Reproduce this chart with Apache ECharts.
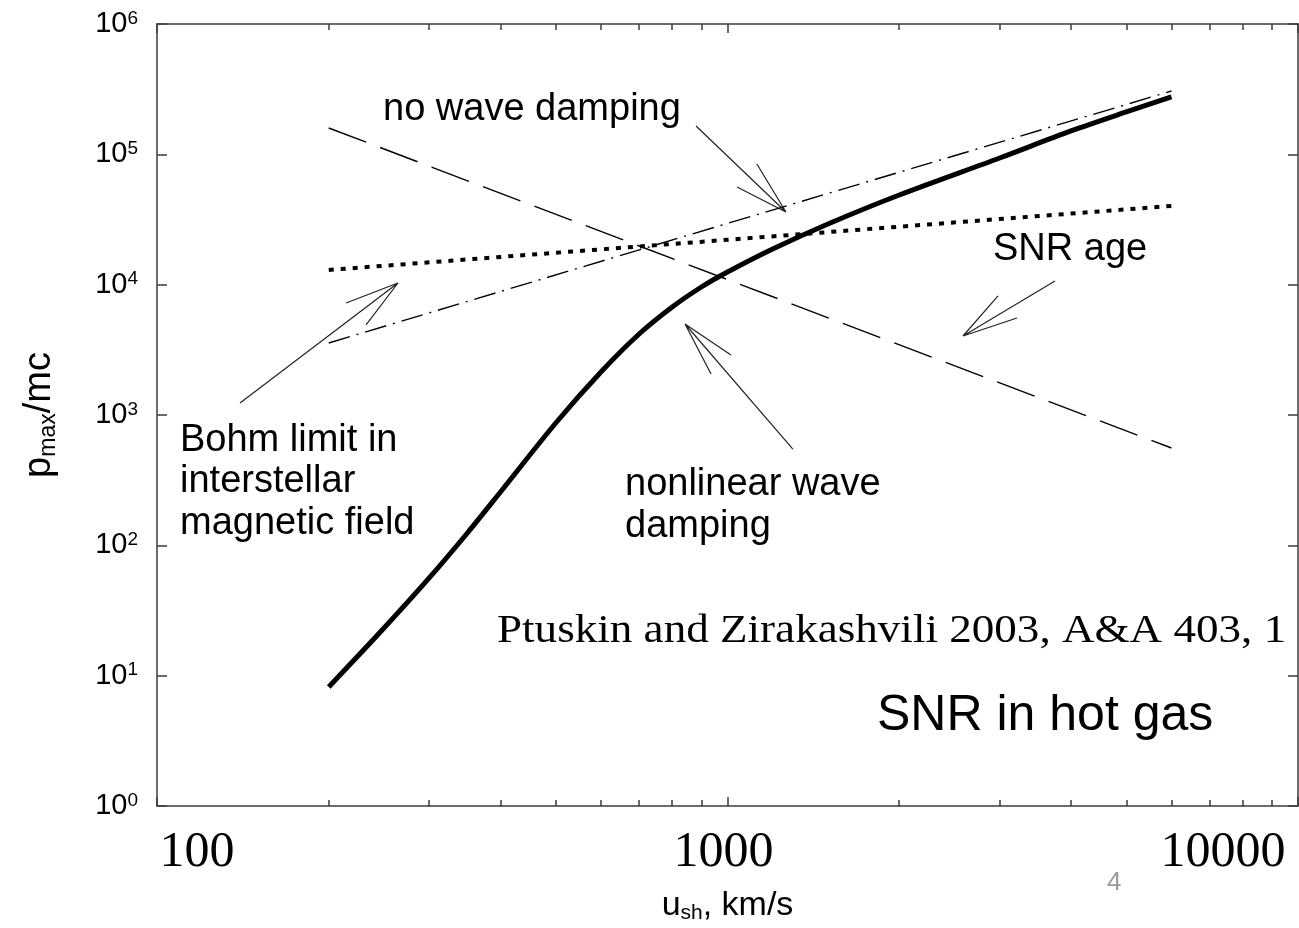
<!DOCTYPE html>
<html><head><meta charset="utf-8">
<script src="https://cdn.jsdelivr.net/npm/echarts@6/dist/echarts.min.js"></script>
<style>html,body{margin:0;padding:0;background:#fff}#c{width:1299px;height:928px}</style>
</head><body><div id="c"></div>
<script>
// ---- data ----
const velocity = [200, 250, 300, 350, 400, 500, 600, 700, 800, 900, 1000, 1200, 1500, 2000, 3000, 4000, 5000, 6000];
const nonlinearDamping = [8.19, 23.2, 56.2, 124.4, 256.6, 868, 2138, 4183, 6741, 9598, 12510, 18780, 29220, 48770, 93760, 151100, 211300, 275400];

const lineU = [200, 1000, 6000];
const noWaveDamping = [3570, 29500, 306000];   // dash-dot
const bohmLimit = [12970, 22100, 40200];       // dotted
const snrAge = [159300, 10940, 558];           // dashed

const xMajorTicks = [100, 1000, 10000];
const xMinorTicks = [200, 300, 400, 500, 600, 700, 800, 900, 2000, 3000, 4000, 5000, 6000, 7000, 8000, 9000];
const xTickLabels = {100: '100', 1000: '1000', 10000: '10000'};

// annotation arrows: tail, tip, barb, tip, barb  (u, p)
const arrowBohm = [[139.8, 1236], [264.5, 10300], [214.5, 7230], [264.5, 10300], [232.5, 4908]];
const arrowNonlinear = [[1302, 548], [842.5, 4990], [1014, 2886], [842.5, 4990], [935.7, 2063]];
const arrowNoDamping = [[880.7, 165000], [1266, 36120], [1039, 56170], [1266, 36120], [1126, 84330]];
const arrowSnrAge = [[3750, 10670], [2587, 4038], [2980, 8190], [2587, 4038], [3217, 5550]];

// ---- build ----
const AX = '#3c3c3c';
const SANS = '"Liberation Sans", Arial, sans-serif';
const SERIF = '"Liberation Serif", "Times New Roman", serif';
const zip = (xs, ys) => xs.map((x, i) => [x, ys[i]]);

function arrowSeries(pts) {
  return {type: 'line', data: pts, symbol: 'none', silent: true,
    lineStyle: {color: '#222', width: 1.2}, z: 3};
}

const baseLog = {type: 'log', logBase: 10, min: 100, max: 10000, splitLine: {show: false}};
const chart = echarts.init(document.getElementById('c'), null, {renderer: 'canvas'});
chart.setOption({
  backgroundColor: '#ffffff',
  animation: false,
  grid: {left: 157, right: 1, top: 24, bottom: 122, containLabel: false, outerBoundsMode: 'none'},
  xAxis: [
    Object.assign({}, baseLog, {
      position: 'bottom',
      axisLine: {show: true, onZero: false, lineStyle: {color: AX, width: 1.5}},
      axisTick: {show: true, inside: true, length: 9, lineStyle: {color: AX, width: 1.5}, customValues: xMajorTicks},
      axisLabel: {
        show: true, margin: 22, customValues: xMajorTicks,
        formatter: v => {
          const t = xTickLabels[Math.round(v)] || '';
          if (Math.round(v) === 100) return '{l|' + t + '}';
          if (Math.round(v) === 10000) return '{r|' + t + '}';
          return '{m|' + t + '}';
        },
        rich: {
          l: {fontFamily: SERIF, fontSize: 50, color: '#000', padding: [0, 0, 0, 80]},
          m: {fontFamily: SERIF, fontSize: 50, color: '#000', padding: [0, 0, 0, -8]},
          r: {fontFamily: SERIF, fontSize: 50, color: '#000', padding: [0, 150, 0, 0]}
        }
      },
      name: '{u|u}{s|sh}{u|, km/s}',
      nameLocation: 'middle', nameGap: 81,
      nameTextStyle: {
        rich: {
          u: {fontFamily: SANS, fontSize: 34, color: '#000', lineHeight: 37},
          s: {fontFamily: SANS, fontSize: 21, color: '#000', lineHeight: 21, verticalAlign: 'bottom'}
        }
      }
    }),
    Object.assign({}, baseLog, {
      position: 'bottom', axisLine: {show: false},
      axisTick: {show: true, inside: true, length: 6, lineStyle: {color: AX, width: 1.5}, customValues: xMinorTicks},
      axisLabel: {show: false}
    }),
    Object.assign({}, baseLog, {
      position: 'top',
      axisLine: {show: true, onZero: false, lineStyle: {color: AX, width: 1.5}},
      axisTick: {show: true, inside: true, length: 9, lineStyle: {color: AX, width: 1.5}, customValues: xMajorTicks},
      axisLabel: {show: false}
    }),
    Object.assign({}, baseLog, {
      position: 'top', axisLine: {show: false},
      axisTick: {show: true, inside: true, length: 6, lineStyle: {color: AX, width: 1.5}, customValues: xMinorTicks},
      axisLabel: {show: false}
    })
  ],
  yAxis: [
    {
      type: 'log', logBase: 10, min: 1, max: 1e6, position: 'left',
      splitLine: {show: false},
      axisLine: {show: true, onZero: false, lineStyle: {color: AX, width: 1.5}},
      axisTick: {show: true, inside: true, length: 10, lineStyle: {color: AX, width: 1.5}},
      axisLabel: {
        margin: 19,
        formatter: v => '{b|10}{e|' + Math.round(Math.log10(v)) + '}',
        rich: {
          b: {fontFamily: SANS, fontSize: 29, color: '#000', lineHeight: 30},
          e: {fontFamily: SANS, fontSize: 19, color: '#000', lineHeight: 19, verticalAlign: 'top'}
        }
      },
      name: '{p|p}{s|max}{p|/mc}',
      nameLocation: 'middle', nameRotate: 90, nameGap: 97,
      nameTextStyle: {
        rich: {
          p: {fontFamily: SANS, fontSize: 38, color: '#000', lineHeight: 40},
          s: {fontFamily: SANS, fontSize: 23, color: '#000', lineHeight: 23, verticalAlign: 'bottom'}
        }
      }
    },
    {
      type: 'log', logBase: 10, min: 1, max: 1e6, position: 'right',
      splitLine: {show: false},
      axisLine: {show: true, onZero: false, lineStyle: {color: AX, width: 1.5}},
      axisTick: {show: true, inside: true, length: 10, lineStyle: {color: AX, width: 1.5}},
      axisLabel: {show: false}
    }
  ],
  series: [
    {type: 'line', data: zip(velocity, nonlinearDamping), symbol: 'none', smooth: 0.3,
      lineStyle: {color: '#000', width: 5}, z: 5},
    {type: 'line', data: zip(lineU, noWaveDamping), symbol: 'none',
      lineStyle: {color: '#000', width: 1.4, type: [22, 7, 2, 7]}, z: 4},
    {type: 'line', data: zip(lineU, bohmLimit), symbol: 'none',
      lineStyle: {color: '#000', width: 4, type: [5, 7], cap: 'butt'}, z: 4},
    {type: 'line', data: zip(lineU, snrAge), symbol: 'none',
      lineStyle: {color: '#000', width: 1.4, type: [40, 15]}, z: 4},
    arrowSeries(arrowBohm),
    arrowSeries(arrowNonlinear),
    arrowSeries(arrowNoDamping),
    arrowSeries(arrowSnrAge)
  ],
  graphic: [
    {type: 'text', x: 383, y: 110, style: {text: 'no wave damping', font: '38px ' + SANS, fill: '#000', verticalAlign: 'middle'}},
    {type: 'text', x: 993, y: 250, style: {text: 'SNR age', font: '38px ' + SANS, fill: '#000', verticalAlign: 'middle'}},
    {type: 'text', x: 180, y: 482, style: {text: 'Bohm limit in\ninterstellar\nmagnetic field', font: '38px ' + SANS, lineHeight: 41.5, fill: '#000', verticalAlign: 'middle'}},
    {type: 'text', x: 625, y: 505.5, style: {text: 'nonlinear wave\ndamping', font: '38px ' + SANS, lineHeight: 41.5, fill: '#000', verticalAlign: 'middle'}},
    {type: 'text', x: 497, y: 631, scaleX: 1.1, style: {text: 'Ptuskin and Zirakashvili 2003, A&A 403, 1', font: '41px ' + SERIF, fill: '#000', verticalAlign: 'middle'}},
    {type: 'text', x: 877, y: 716, style: {text: 'SNR in hot gas', font: '50px ' + SANS, fill: '#000', verticalAlign: 'middle'}},
    {type: 'text', x: 1107, y: 883, style: {text: '4', font: '26px ' + SANS, fill: '#9a9a9a', verticalAlign: 'middle'}}
  ]
});
</script></body></html>
